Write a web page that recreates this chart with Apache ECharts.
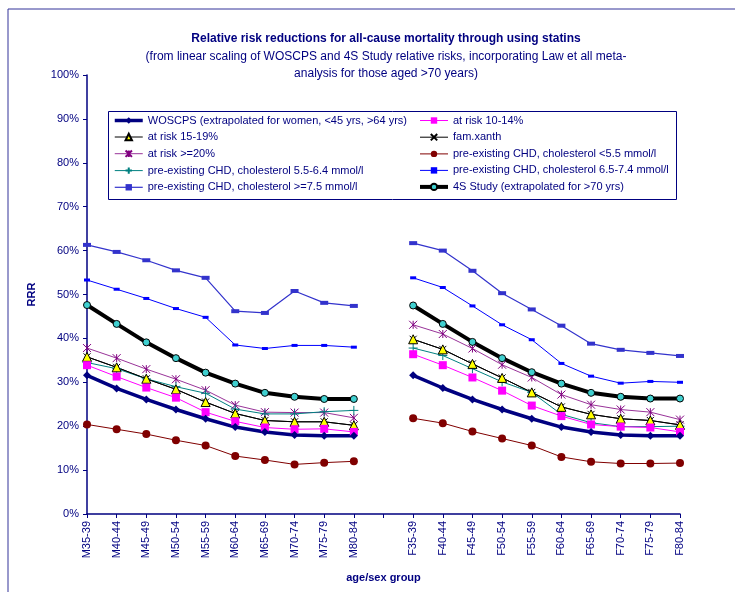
<!DOCTYPE html>
<html lang="en">

<head>
    <meta charset="UTF-8">
    <title>Relative risk reductions</title>
    <script src="https://cdn.jsdelivr.net/npm/echarts@6/dist/echarts.min.js"></script>
    <style>
        body { margin: 0; background: #fff; }
    </style>
</head>

<body>
    <div id="chart" style="width: 735px;height: 592px;"></div>

    <script>
        // age groups, men then a blank gap then women
        const ageGroups = ['35-39', '40-44', '45-49', '50-54', '55-59', '60-64', '65-69', '70-74', '75-79', '80-84'];
        const categories = ageGroups.map(a => 'M' + a).concat([''], ageGroups.map(a => 'F' + a));

        // RRR values (%), men / women
        const woscpsM = [31.6, 28.6, 26.1, 23.8, 21.7, 19.8, 18.7, 18.0, 17.8, 17.8];
        const woscpsF = [31.6, 28.7, 26.1, 23.8, 21.7, 19.8, 18.7, 18.0, 17.8, 17.8];
        const risk1014M = [33.9, 31.3, 28.8, 26.5, 23.2, 21.1, 19.7, 19.3, 19.4, 18.7];
        const risk1014F = [36.4, 33.9, 31.1, 28.1, 24.7, 22.3, 20.4, 19.9, 19.7, 18.7];
        const risk1519M = [35.8, 33.4, 30.8, 28.4, 25.5, 22.9, 21.3, 21.0, 21.0, 20.2];
        const risk1519F = [39.8, 37.5, 34.2, 31.0, 27.7, 24.4, 22.7, 21.7, 21.3, 20.3];
        const famXanthM = [35.8, 33.4, 30.8, 28.4, 25.5, 22.9, 21.3, 21.0, 21.0, 20.2];
        const famXanthF = [39.8, 37.5, 34.2, 31.0, 27.7, 24.4, 22.7, 21.7, 21.3, 20.3];
        const risk20M = [37.8, 35.5, 33.0, 30.7, 28.2, 24.8, 23.2, 23.1, 23.1, 21.9];
        const risk20F = [43.1, 41.0, 37.7, 34.0, 31.1, 27.2, 24.9, 23.8, 23.2, 21.5];
        const chdLow55M = [20.4, 19.3, 18.2, 16.8, 15.6, 13.2, 12.3, 11.3, 11.7, 12.0];
        const chdLow55F = [21.8, 20.7, 18.8, 17.2, 15.6, 13.0, 11.9, 11.5, 11.5, 11.6];
        const chd5564M = [34.5, 33.1, 30.8, 29.0, 27.5, 23.9, 22.8, 22.8, 23.3, 23.6];
        const chd5564F = [37.8, 36.1, 33.1, 30.1, 27.7, 22.7, 20.8, 19.9, 19.9, 20.0];
        const chd6574M = [53.3, 51.2, 49.1, 46.8, 44.8, 38.5, 37.7, 38.4, 38.4, 38.0];
        const chd6574F = [53.8, 51.6, 47.4, 43.1, 39.7, 34.3, 31.4, 29.8, 30.2, 30.0];
        const chdHi75M = [61.3, 59.7, 57.8, 55.5, 53.8, 46.2, 45.8, 50.8, 48.1, 47.4];
        const chdHi75F = [61.7, 60.0, 55.4, 50.3, 46.6, 42.9, 38.8, 37.4, 36.7, 36.0];
        const fourSM = [47.6, 43.3, 39.1, 35.5, 32.2, 29.7, 27.6, 26.7, 26.2, 26.2];
        const fourSF = [47.5, 43.3, 39.2, 35.5, 32.3, 29.7, 27.6, 26.7, 26.3, 26.3];

        const yTicks = { min: 0, max: 100, step: 10 };

        const navy = '#000080';
        const font = '"Liberation Sans", Arial, sans-serif';

        // join men + gap + women
        function join(m, f) {
            return m.concat([null], f);
        }

        // stroke-only marker shapes
        const crossX = 'path://M0,0L10,10M10,0L0,10';
        const star = 'path://M0,0L10,10M10,0L0,10M5,0L5,10';
        const plus = 'path://M5,0L5,10M0,5L10,5';

        function line(name, data, color, width, symbol, size, extra) {
            return Object.assign({
                name: name,
                type: 'line',
                data: data,
                symbol: symbol,
                symbolSize: size,
                showAllSymbol: true,
                connectNulls: false,
                lineStyle: { color: color, width: width },
                itemStyle: { color: color }
            }, extra || {});
        }

        const series = [
            line('fam.xanth', join(famXanthM, famXanthF), '#000000', 1, crossX, 7,
                { z: 1, itemStyle: { color: 'none', borderColor: '#000000', borderWidth: 1 } }),
            line('pre-existing CHD, cholesterol >=7.5 mmol/l', join(chdHi75M, chdHi75F), '#3333CC', 1.2, 'rect', [8, 4]),
            line('pre-existing CHD, cholesterol 6.5-7.4 mmol/l', join(chd6574M, chd6574F), '#0000FF', 1, 'rect', [6, 3]),
            line('pre-existing CHD, cholesterol <5.5 mmol/l', join(chdLow55M, chdLow55F), '#800000', 1, 'circle', 8),
            line('at risk >=20%', join(risk20M, risk20F), '#993399', 1, star, 8,
                { itemStyle: { color: 'none', borderColor: '#800080', borderWidth: 1 } }),
            line('4S Study (extrapolated for >70 yrs)', join(fourSM, fourSF), '#000000', 4, 'circle', 7,
                { itemStyle: { color: '#40D0D0', borderColor: '#000000', borderWidth: 1 } }),
            line('pre-existing CHD, cholesterol 5.5-6.4 mmol/l', join(chd5564M, chd5564F), '#008080', 1, plus, 9,
                { itemStyle: { color: 'none', borderColor: '#008080', borderWidth: 1 } }),
            line('at risk 15-19%', join(risk1519M, risk1519F), '#000000', 1, 'triangle', 9,
                { itemStyle: { color: '#FFFF00', borderColor: '#000000', borderWidth: 1 } }),
            line('at risk 10-14%', join(risk1014M, risk1014F), '#FF00FF', 1, 'rect', 8),
            line('WOSCPS (extrapolated for women, <45 yrs, >64 yrs)', join(woscpsM, woscpsF), navy, 3.5, 'diamond', 8)
        ];

        const legendText = { color: navy, fontFamily: font, fontSize: 11 };

        function legendBox(left, names) {
            return {
                orient: 'vertical',
                left: left,
                top: 115,
                padding: 0,
                itemWidth: 28,
                itemHeight: 8,
                itemGap: 5.5,
                lineStyle: { width: 'inherit' },
                textStyle: legendText,
                data: names
            };
        }

        let myChart = echarts.init(document.getElementById('chart'));

        let option = {
            animation: false,
            backgroundColor: '#fff',
            textStyle: { fontFamily: font },
            title: {
                text: 'Relative risk reductions for all-cause mortality through using statins',
                subtext: '(from linear scaling of WOSCPS and 4S Study relative risks, incorporating Law et all meta-\nanalysis for those aged >70 years)',
                left: 381,
                textAlign: 'center',
                top: 28,
                itemGap: 3,
                textStyle: { color: navy, fontSize: 12, fontWeight: 'bold', fontFamily: font },
                subtextStyle: { color: navy, fontSize: 12, fontFamily: font, lineHeight: 17 }
            },
            graphic: [
                // outer frame
                { type: 'rect', shape: { x: 8, y: 9, width: 740, height: 600 }, style: { fill: 'none', stroke: '#333399', lineWidth: 1 }, silent: true },
                // legend box
                { type: 'rect', shape: { x: 108.5, y: 111.5, width: 568, height: 88 }, style: { fill: '#fff', stroke: navy, lineWidth: 1 }, z: 0, silent: true }
            ],
            legend: [
                legendBox(113, [
                    'WOSCPS (extrapolated for women, <45 yrs, >64 yrs)',
                    'at risk 15-19%',
                    'at risk >=20%',
                    'pre-existing CHD, cholesterol 5.5-6.4 mmol/l',
                    'pre-existing CHD, cholesterol >=7.5 mmol/l'
                ]),
                legendBox(418, [
                    'at risk 10-14%',
                    'fam.xanth',
                    'pre-existing CHD, cholesterol <5.5 mmol/l',
                    'pre-existing CHD, cholesterol 6.5-7.4 mmol/l',
                    '4S Study (extrapolated for >70 yrs)'
                ])
            ],
            grid: {
                left: 87,
                right: 55,
                top: 75,
                bottom: 78,
                containLabel: false
            },
            xAxis: {
                type: 'category',
                data: categories,
                boundaryGap: false,
                name: 'age/sex group',
                nameLocation: 'middle',
                nameGap: 58,
                nameTextStyle: { color: navy, fontWeight: 'bold', fontSize: 11, fontFamily: font },
                axisLine: { lineStyle: { color: navy, width: 1.5 } },
                axisTick: { show: true, length: 4, interval: 0, lineStyle: { color: navy } },
                axisLabel: { rotate: 90, interval: 0, color: navy, fontSize: 11, margin: 7, fontFamily: font },
                splitLine: { show: false }
            },
            yAxis: {
                type: 'value',
                min: yTicks.min,
                max: yTicks.max,
                interval: yTicks.step,
                name: 'RRR',
                nameLocation: 'middle',
                nameGap: 50,
                nameTextStyle: { color: navy, fontWeight: 'bold', fontSize: 11, fontFamily: font },
                axisLine: { show: true, lineStyle: { color: navy, width: 1.5 } },
                axisTick: { show: true, length: 4, lineStyle: { color: navy } },
                axisLabel: { formatter: '{value}%', color: navy, fontSize: 11, margin: 8, fontFamily: font },
                splitLine: { show: false }
            },
            series: series
        };

        myChart.setOption(option);
    </script>
</body>

</html>
